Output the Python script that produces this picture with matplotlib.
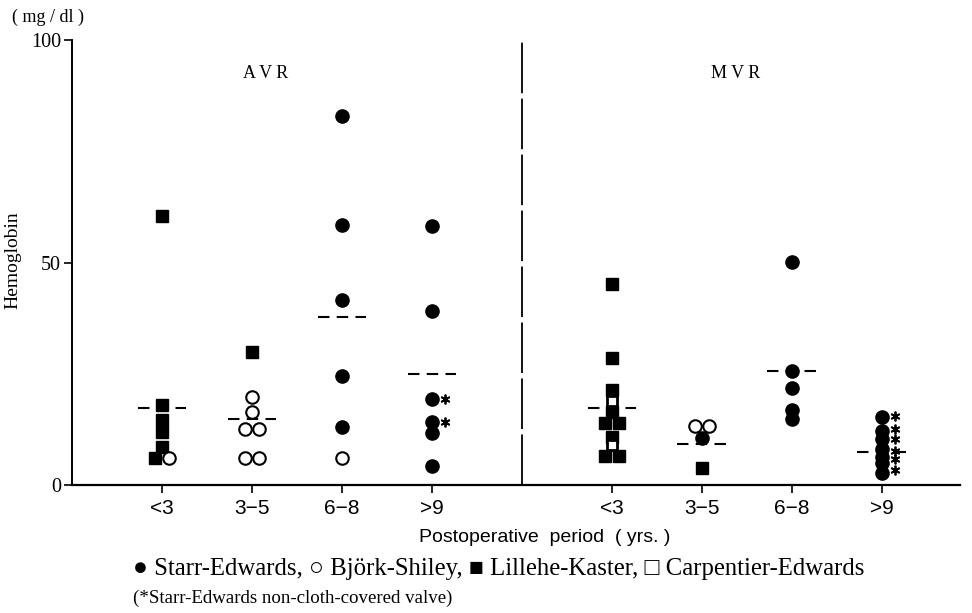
import matplotlib
matplotlib.use("Agg")
import matplotlib.pyplot as plt
from collections import defaultdict

# ---------------- data ----------------
groups = ["<3", "3\u22125", "6\u22128", ">9"]
panels = ["A V R", "M V R"]

# AVR values (mg/dl) per postoperative group index
avr_starr = {2: [83, 58.5, 41.5, 24.5, 13], 3: [58.2, 39, 19.3, 14.2, 11.7, 4.3]}
avr_bjork = {0: [6], 1: [19.8, 16.4, 12.6, 12.6, 6.1, 6.1], 2: [6.1]}
avr_lille = {0: [60.4, 18, 14.5, 12, 8.5, 6], 1: [29.9]}
avr_carp = {}
avr_noncloth = {3: [19.3, 14.2]}
avr_means = [17.3, 14.8, 37.7, 25.0]

# MVR values
mvr_starr = {1: [10.6], 2: [50.1, 25.6, 21.8, 16.9, 14.8], 3: [15.3, 12.2, 10.4, 8.0, 6.4, 5.0, 2.7]}
mvr_bjork = {1: [13.3, 13.3]}
mvr_lille = {0: [45.2, 28.5, 21.3, 16.4, 13.9, 13.9, 10.8, 6.5, 6.5], 1: [3.8]}
mvr_carp = {0: [18.9, 9.0]}
mvr_noncloth = {3: [15.5, 12.5, 10.4, 7.6, 5.8, 3.3]}
mvr_means = [17.3, 9.2, 25.6, 7.5]

legend_line1 = "\u25CF Starr-Edwards, \u25CB Bj\u00f6rk-Shiley, \u25A0 Lillehe-Kaster, \u25A1 Carpentier-Edwards"
legend_line2 = "(*Starr-Edwards non-cloth-covered valve)"

# ---------------- figure ----------------
W, H = 972, 613
fig = plt.figure(figsize=(W / 100, H / 100), dpi=100)
ax = fig.add_axes([72 / W, 1 - 485 / H, (960 - 72) / W, (485 - 40) / H])
serif = "Liberation Serif"
sans = "Liberation Sans"

ax.set_xlim(-1.0, 8.87)
ax.set_ylim(0, 100)
for s in ["top", "right"]:
    ax.spines[s].set_visible(False)
ax.spines["left"].set_linewidth(1.4)
ax.spines["bottom"].set_linewidth(1.6)
ax.set_yticks([0, 50, 100])
ax.set_yticklabels(["0", "50", "100"], fontfamily=serif, fontsize=14.5)
ax.tick_params(axis="y", length=6, width=1.2, pad=2)
panel_offsets = [0, 5]
xt = [o + i for o in panel_offsets for i in range(len(groups))]
ax.set_xticks(xt)
ax.set_xticklabels(groups * 2, fontfamily=sans, fontsize=15)
ax.tick_params(axis="x", length=6, width=1.2, pad=4)

# divider
ax.plot([4, 4], [0, 100], color="black", lw=1.3, dashes=(28, 3), clip_on=False)

sp = 0.075  # horizontal spread for equal values

def draw_panel(off, starr, bjork, lille, carp, noncloth, means):
    series = [
        (starr, dict(marker="o", ms=9.5, mfc="black", mec="black", mew=1)),
        (lille, dict(marker="s", ms=8.5, mfc="black", mec="black", mew=1)),
        (bjork, dict(marker="o", ms=9, mfc="white", mec="black", mew=1.5)),
        (carp, dict(marker="s", ms=7, mfc="white", mec="black", mew=2)),
    ]
    counts = defaultdict(list)
    for si, (d, _) in enumerate(series):
        for g, vals in d.items():
            for v in vals:
                counts[(g, round(v, 1))].append(si)
    used = defaultdict(int)
    for si, (d, style) in enumerate(series):
        for g, vals in d.items():
            for v in vals:
                key = (g, round(v, 1))
                n = len(counts[key])
                k = used[key]
                used[key] += 1
                dx = (k - (n - 1) / 2) * 2 * sp if n > 1 else 0
                ax.plot(off + g + dx, v, linestyle="none", zorder=3 + si, clip_on=False, **style)
    for g, vals in noncloth.items():
        for v in vals:
            ax.plot(off + g + 0.15, v, linestyle="none", marker=(6, 2, 0), ms=7,
                    mec="black", mew=1.3, zorder=6, clip_on=False)
    for g, m in enumerate(means):
        ax.plot([off + g - 0.27, off + g + 0.27], [m, m], color="black", lw=1.5,
                dashes=(5.5, 3.5), zorder=2)

draw_panel(0, avr_starr, avr_bjork, avr_lille, avr_carp, avr_noncloth, avr_means)
draw_panel(5, mvr_starr, mvr_bjork, mvr_lille, mvr_carp, mvr_noncloth, mvr_means)

ax.text(1.15, 92.5, panels[0], fontfamily=serif, fontsize=13, ha="center", va="center")
ax.text(6.38, 92.5, panels[1], fontfamily=serif, fontsize=13, ha="center", va="center")

fig.text(12 / W, 1 - 17 / H, "( mg / dl )", fontfamily=serif, fontsize=13, ha="left", va="center")
fig.text(13 / W, 1 - 260 / H, "Hemoglobin", fontfamily=serif, fontsize=14, rotation=90,
         ha="center", va="center")
fig.text(545 / W, 1 - 538 / H, "Postoperative  period  ( yrs. )", fontfamily=sans,
         fontsize=14, ha="center", va="center")
fig.text(133 / W, 1 - 569 / H, legend_line1, fontfamily=["Liberation Serif", "DejaVu Sans"],
         fontsize=17.8, ha="left", va="center")
fig.text(133 / W, 1 - 598 / H, legend_line2, fontfamily=serif, fontsize=13.6, ha="left", va="center")

fig.savefig("out.png", dpi=100)
